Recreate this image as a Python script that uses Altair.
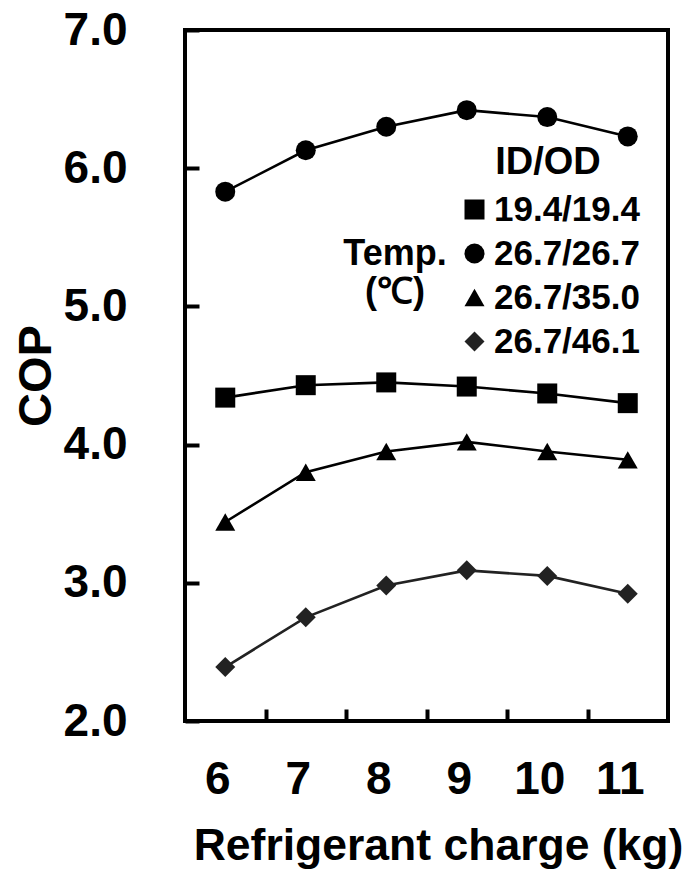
import altair as alt
import pandas as pd

# ---- data ----
charge = [6, 7, 8, 9, 10, 11]
x_tick_marks = [6.5, 7.5, 8.5, 9.5, 10.5]
series_names = ["19.4/19.4", "26.7/26.7", "26.7/35.0", "26.7/46.1"]
cop_19_19 = [4.34, 4.43, 4.45, 4.42, 4.37, 4.30]
cop_26_26 = [5.83, 6.13, 6.30, 6.42, 6.37, 6.23]
cop_26_35 = [3.44, 3.80, 3.95, 4.02, 3.95, 3.89]
cop_26_46 = [2.39, 2.75, 2.98, 3.09, 3.05, 2.92]
y_ticks = [2, 3, 4, 5, 6, 7]
annotation = "Temp.\n(℃)"

rows = []
for name, vals in zip(series_names, [cop_19_19, cop_26_26, cop_26_35, cop_26_46]):
    for c, v in zip(charge, vals):
        rows.append({"charge": c, "cop": v, "series": name})
df = pd.DataFrame(rows)

FONT = "Liberation Sans"
shapes = ["square", "circle", "triangle-up", "diamond"]
colors = ["#000000", "#000000", "#000000", "#222222"]
sizes = [400, 400, 560, 520]

legend = alt.Legend(
    title="ID/OD", orient="none", legendX=272, legendY=114, padding=0,
    titleFontSize=38, titleFont=FONT, titleFontWeight="bold", titleColor="black",
    titleAnchor="middle", titlePadding=10,
    labelFontSize=35, labelFont=FONT, labelFontWeight="bold", labelColor="black",
    labelOffset=2, rowPadding=8, symbolSize=360, symbolStrokeWidth=0, labelLimit=300,
)

xscale = alt.Scale(domain=[5.5, 11.5], nice=False, zero=False)
x_ticks_enc = alt.X(
    "charge:Q", scale=xscale,
    axis=alt.Axis(
        orient="bottom", values=x_tick_marks, labels=False, title=None,
        offset=-12, tickSize=12, tickWidth=4, tickColor="black",
        domain=False, grid=False,
    ),
)
x_labels_enc = alt.X(
    "charge:Q", scale=xscale,
    axis=alt.Axis(
        orient="bottom", values=charge, title="Refrigerant charge (kg)",
        ticks=False, domain=False, grid=False, position=-8,
        labelPadding=36, labelFlush=False, labelOverlap=False,
        labelFontSize=46, labelFont=FONT, labelFontWeight="bold", labelColor="black",
        titleFontSize=44.5, titleFont=FONT, titleFontWeight="bold", titleColor="black",
        titlePadding=22, titleX=261,
    ),
)
y = alt.Y(
    "cop:Q",
    scale=alt.Scale(domain=[2, 7], nice=False, zero=False),
    axis=alt.Axis(
        values=y_ticks, format=".1f", title="COP",
        offset=-14, tickSize=14, tickWidth=4, tickColor="black",
        domain=False, grid=False, labelPadding=58,
        labelFontSize=46, labelFont=FONT, labelFontWeight="bold", labelColor="black",
        titleFontSize=47, titleFont=FONT, titleFontWeight="bold", titleColor="black",
        titlePadding=3,
    ),
)
color = alt.Color("series:N", scale=alt.Scale(domain=series_names, range=colors), legend=legend)
shape = alt.Shape("series:N", scale=alt.Scale(domain=series_names, range=shapes), legend=legend)

base = alt.Chart(df)
lines = base.mark_line(strokeWidth=2.6).encode(x=x_ticks_enc, y=y, color=color, detail="series:N")
points = base.mark_point(filled=True, opacity=1).encode(
    x=x_labels_enc, y=y, color=color, shape=shape,
    size=alt.Size("series:N", scale=alt.Scale(domain=series_names, range=sizes), legend=None),
)
note = alt.Chart(pd.DataFrame({"t": [annotation]})).mark_text(
    font=FONT, fontSize=36, fontWeight="bold", color="black",
    align="center", baseline="alphabetic", lineBreak="\n", lineHeight=38,
).encode(text="t:N", x=alt.value(210), y=alt.value(235))

chart = alt.layer(lines, points, note).resolve_scale(x="independent").properties(
    width=483, height=691,
    background="white",
    autosize=alt.AutoSizeParams(type="none"),
    padding={"left": 185, "top": 30, "right": 23, "bottom": 151},
).configure_view(stroke="black", strokeWidth=4)

chart.save("out.html", embed_options={"renderer": "svg", "actions": False})
